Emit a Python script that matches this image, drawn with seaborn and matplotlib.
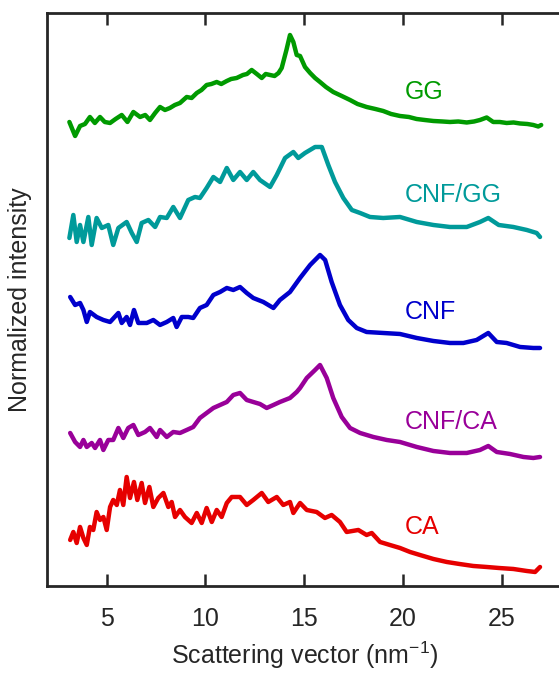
import pandas as pd
import seaborn as sns
import matplotlib.pyplot as plt

# Values (q in nm^-1, stacked normalized intensity)
gg_q = [3.11, 3.40, 3.65, 3.90, 4.15, 4.40, 4.66, 4.90, 5.17, 5.45, 5.76, 6.05, 6.35, 6.69, 6.95,
        7.19, 7.45, 7.70, 7.95, 8.20, 8.45, 8.71, 9.05, 9.30, 9.56, 9.80, 10.06, 10.30, 10.57, 10.80,
        11.08, 11.30, 11.58, 11.90, 12.10, 12.34, 12.60, 12.85, 13.05, 13.27, 13.50, 13.70, 13.86,
        14.10, 14.28, 14.45, 14.62, 14.79, 15.04, 15.30, 15.55, 15.80, 16.10, 16.47, 16.90, 17.32,
        17.70, 18.16, 18.60, 19.00, 19.40, 19.85, 20.30, 20.69, 21.10, 21.54, 22.00, 22.38, 22.80,
        23.23, 23.60, 23.90, 24.24, 24.57, 24.90, 25.25, 25.60, 25.93, 26.30, 26.60, 26.85, 27.00]
gg_i = [4.64, 4.50, 4.60, 4.62, 4.69, 4.63, 4.69, 4.64, 4.63, 4.67, 4.71, 4.64, 4.74, 4.69, 4.71,
        4.66, 4.73, 4.79, 4.76, 4.78, 4.81, 4.83, 4.89, 4.88, 4.93, 4.96, 5.01, 5.02, 5.04, 5.02,
        5.05, 5.07, 5.08, 5.11, 5.12, 5.16, 5.12, 5.08, 5.12, 5.11, 5.10, 5.13, 5.18,
        5.36, 5.51, 5.44, 5.31, 5.30, 5.19, 5.13, 5.08, 5.04, 4.99, 4.94, 4.90, 4.86,
        4.82, 4.79, 4.77, 4.75, 4.72, 4.70, 4.69, 4.67, 4.66, 4.65, 4.645, 4.64, 4.645,
        4.635, 4.645, 4.66, 4.685, 4.64, 4.64, 4.63, 4.635, 4.625, 4.62, 4.61, 4.595, 4.61]

cnfgg_q = [3.11, 3.31, 3.48, 3.65, 3.82, 4.07, 4.24, 4.49, 4.75, 5.08, 5.33, 5.59, 6.01, 6.27, 6.52,
           6.77, 7.11, 7.45, 7.70, 8.04, 8.37, 8.71, 9.13, 9.47, 9.72, 10.06, 10.40, 10.74, 11.08,
           11.41, 11.75, 12.09, 12.42, 12.76, 13.27, 13.61, 14.03, 14.45, 14.70, 15.04, 15.55, 15.89,
           16.22, 16.56, 16.98, 17.41, 17.83, 18.33, 19.00, 19.85, 20.70, 21.54, 22.38, 23.23, 23.90,
           24.32, 24.85, 25.59, 26.27, 26.77, 26.94]
cnfgg_i = [3.48, 3.71, 3.44, 3.61, 3.44, 3.69, 3.41, 3.68, 3.58, 3.61, 3.41, 3.58, 3.64, 3.53, 3.44,
           3.63, 3.66, 3.59, 3.69, 3.68, 3.79, 3.68, 3.86, 3.89, 3.88, 3.98, 4.09, 4.04, 4.18,
           4.06, 4.14, 4.06, 4.14, 4.06, 3.99, 4.11, 4.28, 4.34, 4.28, 4.33, 4.39, 4.39,
           4.21, 4.04, 3.88, 3.76, 3.73, 3.69, 3.68, 3.69, 3.64, 3.61, 3.59, 3.59, 3.64,
           3.68, 3.61, 3.59, 3.56, 3.53, 3.49]

cnf_q = [3.15, 3.40, 3.65, 3.82, 3.99, 4.15, 4.49, 4.83, 5.17, 5.59, 5.76, 6.01, 6.18, 6.38, 6.60,
         7.03, 7.36, 7.70, 8.04, 8.37, 8.54, 8.80, 9.13, 9.38, 9.72, 10.06, 10.40, 10.74, 11.08,
         11.41, 11.75, 12.09, 12.42, 12.93, 13.44, 13.77, 14.28, 14.79, 15.30, 15.80, 16.06, 16.39,
         16.81, 17.23, 17.66, 18.16, 19.00, 19.85, 20.70, 21.54, 22.38, 23.06, 23.73, 24.32, 24.75,
         25.25, 25.93, 26.60, 26.94]
cnf_i = [2.89, 2.81, 2.83, 2.76, 2.64, 2.74, 2.69, 2.66, 2.64, 2.73, 2.63, 2.69, 2.61, 2.76, 2.63,
         2.63, 2.66, 2.61, 2.64, 2.68, 2.59, 2.69, 2.69, 2.68, 2.78, 2.81, 2.91, 2.94, 2.98,
         2.96, 2.99, 2.93, 2.88, 2.84, 2.78, 2.86, 2.94, 3.08, 3.21, 3.31, 3.26, 3.04,
         2.81, 2.66, 2.58, 2.54, 2.53, 2.52, 2.48, 2.45, 2.43, 2.43, 2.46, 2.53, 2.44,
         2.43, 2.39, 2.38, 2.38]

cnfca_q = [3.15, 3.40, 3.65, 3.82, 3.99, 4.24, 4.41, 4.66, 4.83, 5.08, 5.33, 5.59, 5.84, 6.09, 6.35,
           6.60, 6.94, 7.19, 7.53, 7.70, 8.04, 8.37, 8.71, 9.05, 9.38, 9.72, 10.06, 10.40, 10.74,
           11.08, 11.41, 11.75, 12.09, 12.42, 12.76, 13.10, 13.44, 13.77, 14.28, 14.62, 14.79, 15.13,
           15.55, 15.80, 16.14, 16.47, 16.90, 17.32, 17.83, 18.50, 19.18, 19.85, 20.70, 21.54, 22.38,
           23.23, 23.90, 24.32, 24.75, 25.42, 26.10, 26.60, 26.94]
cnfca_i = [1.53, 1.44, 1.39, 1.46, 1.39, 1.43, 1.38, 1.46, 1.36, 1.46, 1.46, 1.58, 1.48, 1.58, 1.61,
           1.51, 1.54, 1.58, 1.49, 1.56, 1.49, 1.54, 1.53, 1.56, 1.59, 1.68, 1.73, 1.78, 1.81,
           1.84, 1.91, 1.93, 1.86, 1.84, 1.82, 1.78, 1.81, 1.84, 1.88, 1.94, 1.98, 2.08,
           2.16, 2.21, 2.08, 1.88, 1.69, 1.58, 1.53, 1.49, 1.46, 1.44, 1.39, 1.35, 1.33,
           1.33, 1.36, 1.40, 1.34, 1.32, 1.29, 1.28, 1.29]

ca_q = [3.15, 3.31, 3.48, 3.65, 3.82, 3.99, 4.15, 4.32, 4.49, 4.66, 4.83, 5.00, 5.17, 5.33, 5.51,
        5.67, 5.84, 6.01, 6.18, 6.38, 6.55, 6.77, 6.94, 7.16, 7.36, 7.61, 7.87, 8.12, 8.29, 8.46,
        8.71, 8.96, 9.30, 9.56, 9.81, 10.06, 10.32, 10.57, 10.82, 11.08, 11.33, 11.75, 12.09, 12.42,
        12.85, 13.18, 13.61, 13.94, 14.28, 14.45, 14.79, 15.13, 15.63, 16.05, 16.39, 16.81, 17.15,
        17.74, 18.16, 18.42, 18.84, 19.34, 19.85, 20.36, 20.86, 21.54, 22.22, 22.86, 23.56, 24.24,
        24.85, 25.59, 26.27, 26.69, 26.94]
ca_i = [0.46, 0.54, 0.43, 0.59, 0.48, 0.41, 0.59, 0.56, 0.74, 0.66, 0.69, 0.56, 0.79, 0.86, 0.81,
        0.96, 0.81, 1.09, 0.88, 1.04, 0.86, 1.03, 0.83, 0.99, 0.79, 0.88, 0.93, 0.79, 0.84, 0.69,
        0.76, 0.69, 0.63, 0.73, 0.63, 0.78, 0.64, 0.76, 0.69, 0.83, 0.89, 0.89, 0.81, 0.86,
        0.93, 0.84, 0.89, 0.81, 0.84, 0.73, 0.83, 0.76, 0.74, 0.68, 0.71, 0.64, 0.54,
        0.56, 0.51, 0.53, 0.44, 0.41, 0.38, 0.34, 0.31, 0.27, 0.24, 0.22, 0.20, 0.19,
        0.18, 0.17, 0.15, 0.14, 0.19]

samples = ['GG', 'CNF/GG', 'CNF', 'CNF/CA', 'CA']
colors = ['#009a00', '#009a9a', '#0000cc', '#990099', '#e60000']
label_y = [4.94, 3.91, 2.74, 1.64, 0.59]

curves = [(gg_q, gg_i), (cnfgg_q, cnfgg_i), (cnf_q, cnf_i), (cnfca_q, cnfca_i), (ca_q, ca_i)]
df = pd.concat([pd.DataFrame({'q': q, 'intensity': i, 'sample': s})
                for (q, i), s in zip(curves, samples)], ignore_index=True)

sns.set_style('ticks')
plt.rcParams['font.family'] = ['Liberation Sans', 'DejaVu Sans']
plt.rcParams['mathtext.default'] = 'regular'

fig = plt.figure(figsize=(5.59, 6.73), dpi=100)
ax = fig.add_axes([0.0849, 0.1293, 0.9186, 0.8514])

sns.lineplot(data=df, x='q', y='intensity', hue='sample', palette=dict(zip(samples, colors)),
             estimator=None, linewidth=3.2, legend=False, ax=ax, solid_joinstyle='round')

for s, c, y in zip(samples, colors, label_y):
    ax.text(20.1, y, s, color=c, fontsize=18, va='center', ha='left')

ax.set_xlim(2, 28)
ax.set_ylim(0, 5.73)
ax.set_xticks([5, 10, 15, 20, 25])
ax.set_yticks([])
ax.tick_params(axis='x', direction='in', top=True, length=8.5, width=1.8,
               labelsize=18, pad=15, colors='#262626')
for sp in ax.spines.values():
    sp.set_linewidth(2)
    sp.set_color('#262626')
ax.set_xlabel('Scattering vector (nm$^{-1}$)', fontsize=18, labelpad=6, color='#262626')
ax.set_ylabel('Normalized intensity', fontsize=18, labelpad=11, color='#262626')

fig.savefig('out.png', dpi=100)
